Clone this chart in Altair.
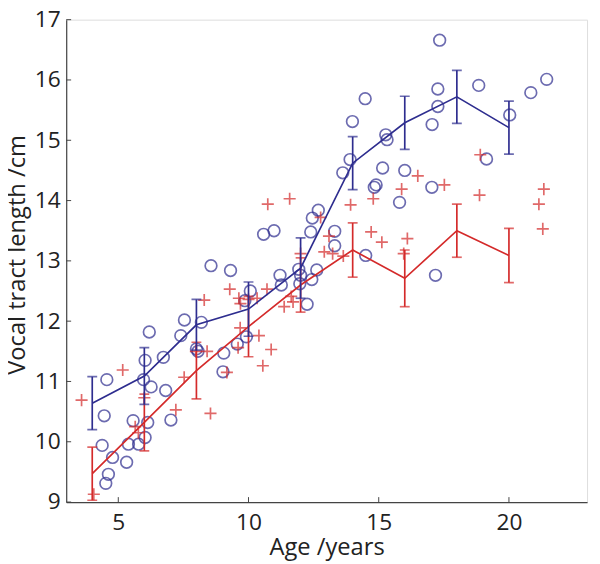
import altair as alt
import pandas as pd

# ---- data ----
blue_x = [4.38, 4.46, 4.56, 4.62, 4.52, 4.78, 5.32, 5.39, 5.57, 5.78, 5.97, 6.03, 6.03, 6.13,
          6.19, 6.26, 6.73, 6.82, 7.02, 7.40, 7.54, 8.00, 8.06, 8.19, 8.56, 9.05, 9.02, 9.31,
          9.57, 9.92, 9.86, 10.07, 10.58, 10.98, 11.21, 11.26, 11.93, 12.00, 11.97, 12.25,
          12.39, 12.45, 12.68, 12.43, 12.62, 13.31, 13.31, 13.62, 13.90, 13.99, 14.48, 14.50,
          14.83, 14.90, 15.15, 15.27, 15.32, 15.80, 16.00, 17.05, 17.27, 17.27, 17.34, 17.04,
          17.18, 18.84, 19.14, 20.03, 20.84, 21.45]
blue_y = [9.94, 10.43, 11.03, 9.46, 9.31, 9.74, 9.66, 9.96, 10.35, 9.96, 11.03, 11.35, 10.07, 10.32,
          11.82, 10.91, 11.40, 10.85, 10.36, 11.76, 12.02, 11.54, 11.50, 11.98, 12.92, 11.47, 11.16, 12.84,
          11.62, 11.74, 12.34, 12.50, 13.44, 13.50, 12.76, 12.60, 12.86, 12.76, 12.62, 12.28,
          13.48, 13.71, 13.84, 12.69, 12.85, 13.49, 13.25, 14.46, 14.68, 15.31, 15.69, 13.09,
          14.22, 14.26, 14.54, 15.09, 15.01, 13.97, 14.50, 15.26, 15.85, 15.56, 16.66, 14.22,
          12.76, 15.91, 14.69, 15.42, 15.79, 16.01]

red_x = [3.59, 4.06, 5.17, 5.65, 5.77, 6.00, 7.21, 7.53, 7.98, 8.30, 8.41, 8.54, 9.17, 9.28,
         9.60, 9.68, 9.63, 9.69, 10.00, 10.33, 10.71, 10.40, 10.55, 10.87, 10.74, 11.58, 11.37,
         11.64, 11.71, 12.00, 12.77, 13.09, 12.91, 13.23, 13.64, 13.92, 14.79, 14.71, 15.12,
         15.88, 16.10, 15.96, 16.50, 17.52, 18.87, 18.90, 21.15, 21.34, 21.30]
red_y = [10.69, 9.13, 11.19, 10.25, 10.15, 10.73, 10.53, 11.07, 11.50, 12.35, 11.50, 10.47, 11.15, 12.53,
         11.56, 11.89, 12.38, 12.29, 12.36, 12.38, 12.53, 11.76, 11.26, 11.53, 13.94, 14.03, 12.24,
         12.41, 12.32, 13.12, 13.72, 13.41, 13.15, 13.12, 13.08, 13.93, 14.03, 13.48, 13.31,
         14.19, 13.37, 13.12, 14.41, 14.26, 14.09, 14.76, 13.94, 14.19, 13.53]

age_groups = [4, 6, 8, 10, 12, 14, 16, 18, 20]
blue_mean = [10.64, 11.09, 11.94, 12.20, 12.88, 14.62, 15.29, 15.72, 15.21]
blue_err = [0.44, 0.47, 0.42, 0.45, 0.50, 0.44, 0.44, 0.44, 0.44]
red_mean = [9.47, 10.32, 11.18, 11.91, 12.60, 13.18, 12.71, 13.50, 13.09]
red_err = [0.44, 0.47, 0.47, 0.50, 0.45, 0.45, 0.47, 0.44, 0.45]

x_ticks = [5, 10, 15, 20]
y_ticks = [9, 10, 11, 12, 13, 14, 15, 16, 17]

BLUE = "#2e2d8f"
RED = "#d42a2a"
FONT = "Open Sans"
W, H = 528, 489

blue_pts = pd.DataFrame({"age": blue_x, "len": blue_y})
red_pts = pd.DataFrame({"age": red_x, "len": red_y})
blue_m = pd.DataFrame({"age": age_groups, "len": blue_mean,
                       "lo": [m - e for m, e in zip(blue_mean, blue_err)],
                       "hi": [m + e for m, e in zip(blue_mean, blue_err)]})
red_m = pd.DataFrame({"age": age_groups, "len": red_mean,
                      "lo": [m - e for m, e in zip(red_mean, red_err)],
                      "hi": [m + e for m, e in zip(red_mean, red_err)]})

xs = alt.Scale(domain=[3, 23], nice=False, zero=False)
ys = alt.Scale(domain=[9, 17], nice=False, zero=False)

x_axis = alt.Axis(values=x_ticks, format="d", ticks=False, grid=False, labelFontSize=23,
                  labelFont=FONT, labelColor="#222", labelPadding=10, domainColor="#444",
                  domainWidth=1.2, title="Age /years", titleFont=FONT, titleFontSize=24,
                  titleFontWeight="normal", titleColor="#222", titleX=W / 2, titleY=53,
                  titleBaseline="alphabetic")
y_axis = alt.Axis(values=y_ticks, format="d", ticks=False, grid=False, labelFontSize=23,
                  labelFont=FONT, labelColor="#222", labelPadding=6, domainColor="#444",
                  domainWidth=1.2, title="Vocal tract length /cm", titleFont=FONT,
                  titleFontSize=24, titleFontWeight="normal", titleColor="#222",
                  titleAngle=-90, titleX=-42, titleY=238, titleAlign="center",
                  titleBaseline="alphabetic")

X = alt.X("age:Q", scale=xs, axis=x_axis)
Y = alt.Y("len:Q", scale=ys, axis=y_axis)

plus_path = "M-1,0L1,0M0,-1L0,1"

circles = alt.Chart(blue_pts).mark_point(shape="circle", filled=False, size=140,
                                         strokeWidth=1.7, color=BLUE, clip=True).encode(x=X, y=Y)
crosses = alt.Chart(red_pts).mark_point(shape=plus_path, filled=False, size=150,
                                        strokeWidth=1.7, color=RED, clip=True).encode(x=X, y=Y)


def mean_layers(df, color):
    line = alt.Chart(df).mark_line(color=color, strokeWidth=1.7, clip=True).encode(x=X, y=Y)
    bar = alt.Chart(df).mark_rule(color=color, strokeWidth=1.7, clip=True).encode(
        x=X, y="lo:Q", y2="hi:Q")
    cap_lo = alt.Chart(df).mark_tick(color=color, orient="horizontal", size=10, thickness=1.7,
                                     clip=True).encode(x=X, y="lo:Q")
    cap_hi = alt.Chart(df).mark_tick(color=color, orient="horizontal", size=10, thickness=1.7,
                                     clip=True).encode(x=X, y="hi:Q")
    return [line, bar, cap_lo, cap_hi]


xt = alt.Chart(pd.DataFrame({"age": x_ticks})).mark_rule(color="#444", strokeWidth=1).encode(
    x=alt.X("age:Q", scale=xs), y=alt.value(H), y2=alt.value(H - 5))
yt = alt.Chart(pd.DataFrame({"len": y_ticks})).mark_rule(color="#444", strokeWidth=1).encode(
    y=alt.Y("len:Q", scale=ys), x=alt.value(0), x2=alt.value(5))

chart = alt.layer(
    circles, crosses, *mean_layers(red_m, RED), *mean_layers(blue_m, BLUE), xt, yt
).properties(
    width=W, height=H,
    autosize=alt.AutoSizeParams(type="none"),
    padding={"left": 59, "top": 8, "right": 5, "bottom": 62},
).configure_view(stroke=None).configure(background="white")

chart.save("out.html", embed_options={"renderer": "svg", "actions": False})
